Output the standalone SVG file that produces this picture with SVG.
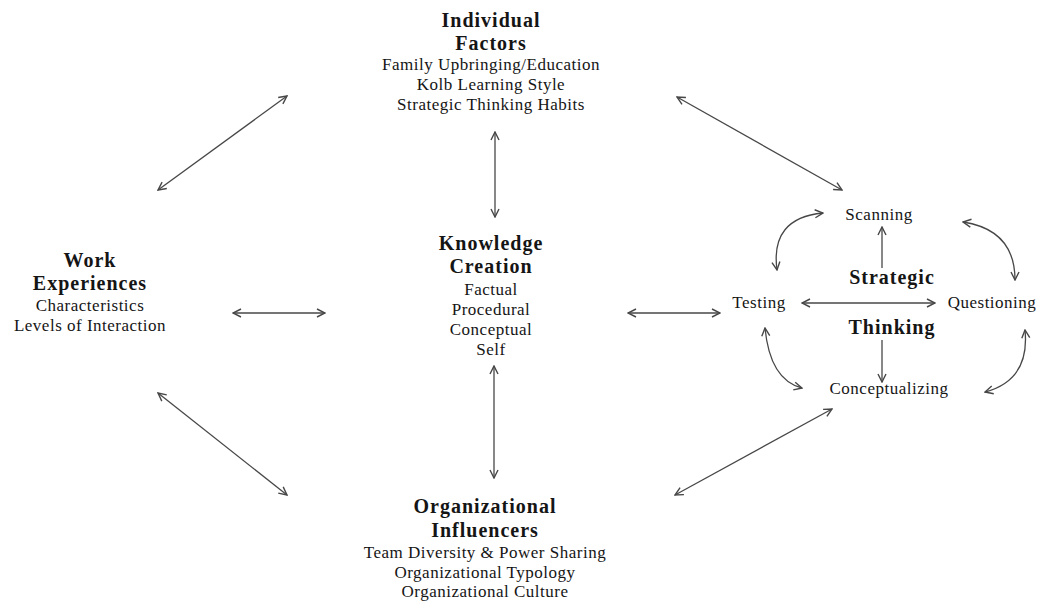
<svg xmlns="http://www.w3.org/2000/svg" width="1038" height="601" viewBox="0 0 1038 601">
  <defs>
    <style>
      text { font-family: "Liberation Serif", "Times New Roman", serif; fill: #151515; text-anchor: middle; }
      .h { font-size: 20px; font-weight: bold; letter-spacing: 1px; }
      .t { font-size: 17px; letter-spacing: 0.5px; }
      .c { fill: none; stroke: #474747; stroke-width: 1.3; marker-end: url(#ah); }
      .b { marker-start: url(#ah); }
    </style>
    <marker id="ah" viewBox="0 0 10 10" refX="9" refY="5" markerWidth="10" markerHeight="10" markerUnits="userSpaceOnUse" orient="auto-start-reverse">
      <path d="M1,1 L9,5 L1,9" fill="none" stroke="#474747" stroke-width="1.4"/>
    </marker>
  </defs>
  <rect width="1038" height="601" fill="#ffffff"/>

  <g id="individual-factors">
    <text class="h" x="491" y="27">Individual</text>
    <text class="h" x="491" y="50">Factors</text>
    <text class="t" x="491" y="70">Family Upbringing/Education</text>
    <text class="t" x="491" y="90">Kolb Learning Style</text>
    <text class="t" x="491" y="110">Strategic Thinking Habits</text>
  </g>

  <g id="work-experiences">
    <text class="h" x="90" y="267">Work</text>
    <text class="h" x="90" y="290">Experiences</text>
    <text class="t" x="90" y="311">Characteristics</text>
    <text class="t" x="90" y="331">Levels of Interaction</text>
  </g>

  <g id="knowledge-creation">
    <text class="h" x="491" y="250">Knowledge</text>
    <text class="h" x="491" y="273">Creation</text>
    <text class="t" x="491" y="295">Factual</text>
    <text class="t" x="491" y="315">Procedural</text>
    <text class="t" x="491" y="335">Conceptual</text>
    <text class="t" x="491" y="355">Self</text>
  </g>

  <g id="organizational-influencers">
    <text class="h" x="485" y="513">Organizational</text>
    <text class="h" x="485" y="537">Influencers</text>
    <text class="t" x="485" y="558">Team Diversity &amp; Power Sharing</text>
    <text class="t" x="485" y="578">Organizational Typology</text>
    <text class="t" x="485" y="597">Organizational Culture</text>
  </g>

  <g id="strategic-thinking">
    <text class="h" x="892" y="284">Strategic</text>
    <text class="h" x="892" y="334">Thinking</text>
    <text class="t" x="879" y="220">Scanning</text>
    <text class="t" x="759" y="308">Testing</text>
    <text class="t" x="992" y="308">Questioning</text>
    <text class="t" x="889" y="394">Conceptualizing</text>
  </g>

  <g id="connectors">
    <line class="c b" x1="158" y1="190" x2="287" y2="96"/>
    <line class="c b" x1="495" y1="132" x2="495" y2="217"/>
    <line class="c b" x1="677" y1="97" x2="842" y2="190"/>
    <line class="c b" x1="233" y1="313" x2="325" y2="313"/>
    <line class="c b" x1="628" y1="313" x2="720" y2="313"/>
    <line class="c b" x1="158" y1="393" x2="287" y2="495"/>
    <line class="c b" x1="494" y1="366" x2="494" y2="478"/>
    <line class="c b" x1="675" y1="495" x2="832" y2="409"/>
    <line class="c b" x1="802" y1="303" x2="935" y2="303"/>
    <line class="c" x1="882" y1="268" x2="882" y2="227"/>
    <line class="c" x1="882" y1="340" x2="882" y2="382"/>
    <path class="c b" d="M823,213 Q770,218 777,270"/>
    <path class="c b" d="M963,222 Q1015,230 1015,280"/>
    <path class="c b" d="M765,328 Q770,380 802,388"/>
    <path class="c b" d="M1025,330 Q1030,380 985,392"/>
  </g>
</svg>
